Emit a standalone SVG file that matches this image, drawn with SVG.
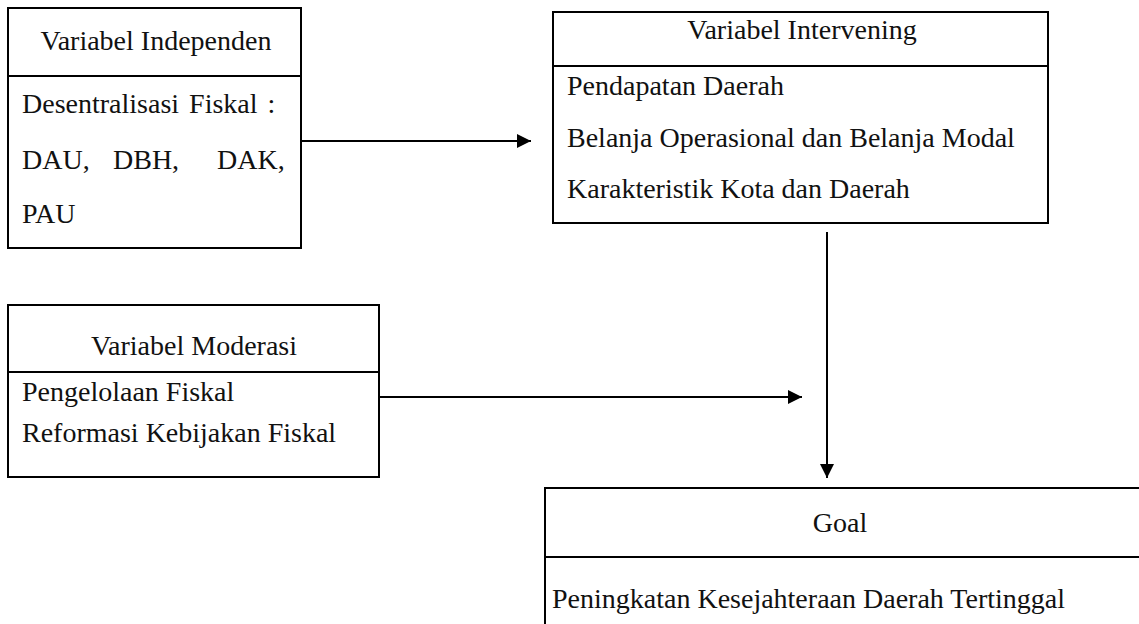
<svg xmlns="http://www.w3.org/2000/svg" width="1139" height="624" viewBox="0 0 1139 624">
  <style>
    .box { fill: #ffffff; stroke: #000000; stroke-width: 2; }
    .div { stroke: #000000; stroke-width: 2; }
    .t { font-family: "Liberation Serif", "Times New Roman", serif; font-size: 28px; fill: #111111; }
    .c { text-anchor: middle; }
    .conn { stroke: #000000; stroke-width: 2; fill: none; }
  </style>
  <defs>
    <marker id="arrow" viewBox="0 0 10 10" refX="10" refY="5" markerWidth="7" markerHeight="7" markerUnits="strokeWidth" orient="auto">
      <path d="M0,0 L10,5 L0,10 Z" fill="#000000"/>
    </marker>
  </defs>

  <rect width="1139" height="624" fill="#ffffff"/>

  <g id="independen">
    <rect class="box" x="8" y="8" width="293" height="240"/>
    <line class="div" x1="8" y1="76" x2="301" y2="76"/>
    <text class="t c" x="156" y="50">Variabel Independen</text>
    <text class="t" x="22" y="113" word-spacing="3">Desentralisasi Fiskal :</text>
    <text class="t" x="22" y="169">DAU,</text>
    <text class="t" x="113" y="169">DBH,</text>
    <text class="t" x="217" y="169">DAK,</text>
    <text class="t" x="22" y="223">PAU</text>
  </g>

  <g id="intervening">
    <rect class="box" x="553" y="12" width="495" height="211"/>
    <line class="div" x1="553" y1="66" x2="1048" y2="66"/>
    <text class="t c" x="802" y="39">Variabel Intervening</text>
    <text class="t" x="567" y="95">Pendapatan Daerah</text>
    <text class="t" x="567" y="147">Belanja Operasional dan Belanja Modal</text>
    <text class="t" x="567" y="198">Karakteristik Kota dan Daerah</text>
  </g>

  <g id="moderasi">
    <rect class="box" x="8" y="305" width="371" height="172"/>
    <line class="div" x1="8" y1="372" x2="379" y2="372"/>
    <text class="t c" x="194" y="355">Variabel Moderasi</text>
    <text class="t" x="22" y="401">Pengelolaan Fiskal</text>
    <text class="t" x="22" y="442">Reformasi Kebijakan Fiskal</text>
  </g>

  <g id="goal">
    <path class="conn" d="M1140,488 L545,488 L545,625"/>
    <line class="div" x1="545" y1="557" x2="1140" y2="557"/>
    <text class="t c" x="840" y="532">Goal</text>
    <text class="t" x="552" y="608">Peningkatan Kesejahteraan Daerah Tertinggal</text>
  </g>

  <g id="connectors">
    <line class="conn" x1="301" y1="141" x2="531" y2="141" marker-end="url(#arrow)"/>
    <line class="conn" x1="827" y1="232" x2="827" y2="478" marker-end="url(#arrow)"/>
    <line class="conn" x1="379" y1="397" x2="802" y2="397" marker-end="url(#arrow)"/>
  </g>
</svg>
